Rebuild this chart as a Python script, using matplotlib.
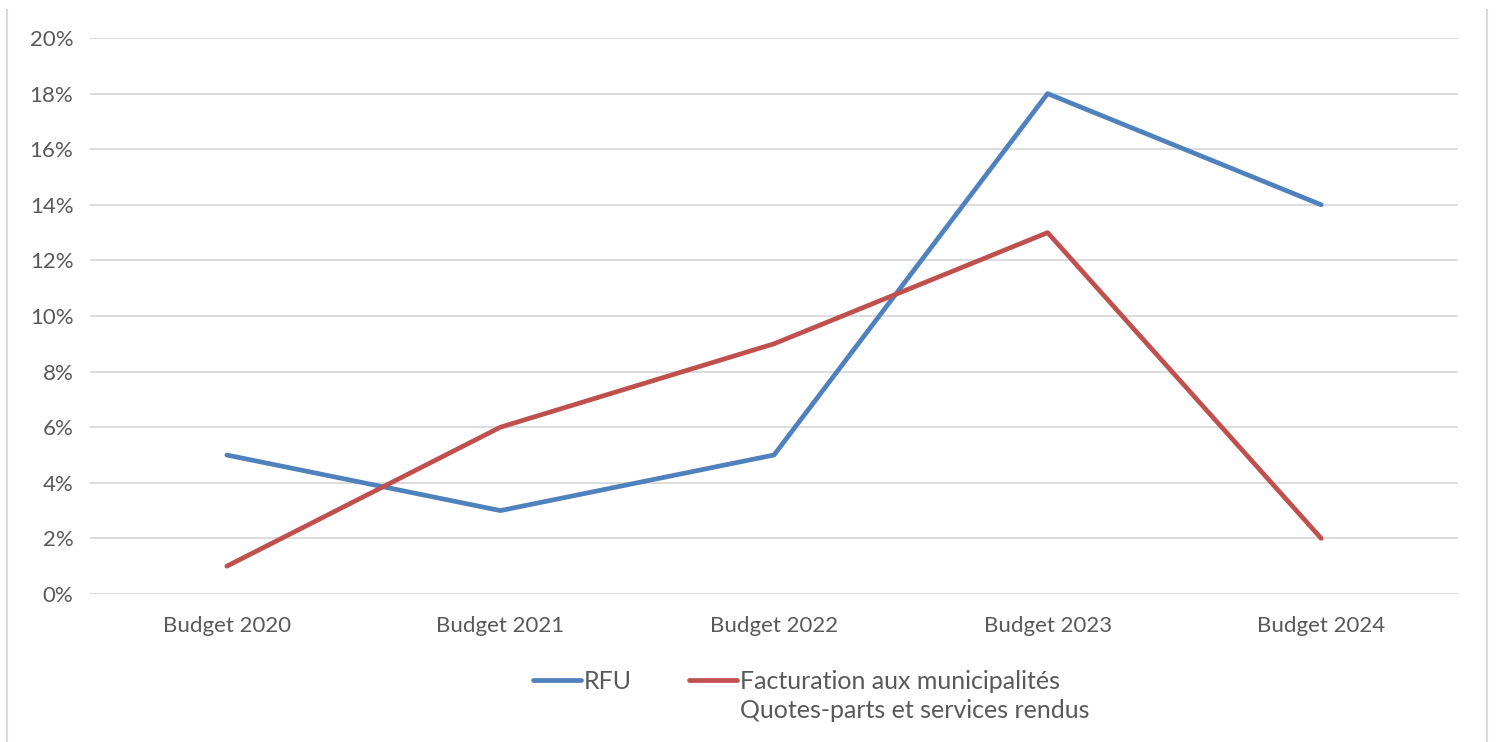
import matplotlib
matplotlib.use('Agg')
import matplotlib.pyplot as plt
from matplotlib.lines import Line2D
from matplotlib.ticker import FuncFormatter

plt.rcParams['font.family'] = ['Lato', 'DejaVu Sans']

categories = ['Budget 2020', 'Budget 2021', 'Budget 2022', 'Budget 2023', 'Budget 2024']
rfu = [5, 3, 5, 18, 14]
facturation = [1, 6, 9, 13, 2]
labels = ['RFU', 'Facturation aux municipalités']
label_extra = 'Quotes-parts et services rendus'

W, H = 1496, 742
fig = plt.figure(figsize=(W/100, H/100), dpi=100)
ax = fig.add_axes([90/W, 1-594/H, 1368/W, 556/H])

x = range(len(categories))
l1, = ax.plot(x, rfu, color='#4F81BD', linewidth=3.4, solid_capstyle='round')
l2, = ax.plot(x, facturation, color='#C0504D', linewidth=3.4, solid_capstyle='round')

ax.set_xlim(-0.5, 4.5)
ax.set_ylim(0, 20)
ax.set_yticks(range(0, 21, 2))
ax.yaxis.set_major_formatter(FuncFormatter(lambda v, p: '%d%%' % v))
ax.set_xticks(list(x))
ax.set_xticklabels(categories)
ax.grid(axis='y', color='#D9D9D9', linewidth=1.3)
ax.set_axisbelow(True)
for s in ax.spines.values():
    s.set_visible(False)
ax.tick_params(length=0, labelsize=16, colors='#595959', pad=12)
ax.tick_params(axis='x', pad=16)

leg = fig.legend([l1, l2], labels, loc='upper left', bbox_to_anchor=(533/W, 1-670/H),
                 ncol=2, frameon=False, fontsize=18, labelcolor='#595959',
                 handlelength=1.9, handletextpad=0.12, columnspacing=2.3,
                 borderpad=0, borderaxespad=0)

# second line of the red label, placed under the legend text
fig.canvas.draw()
bb = leg.get_texts()[1].get_window_extent()
fig.text(bb.x0/W, (bb.y0 - 6)/H, label_extra, ha='left', va='top',
         fontsize=18, color='#595959')

# border lines of the chart frame
fig.add_artist(Line2D([7/W, 7/W], [0, 1-10/H], color='#D9D9D9', linewidth=1.5))
fig.add_artist(Line2D([1487/W, 1487/W], [0, 1-10/H], color='#D9D9D9', linewidth=1.5))

plt.savefig('out.png', dpi=100)
